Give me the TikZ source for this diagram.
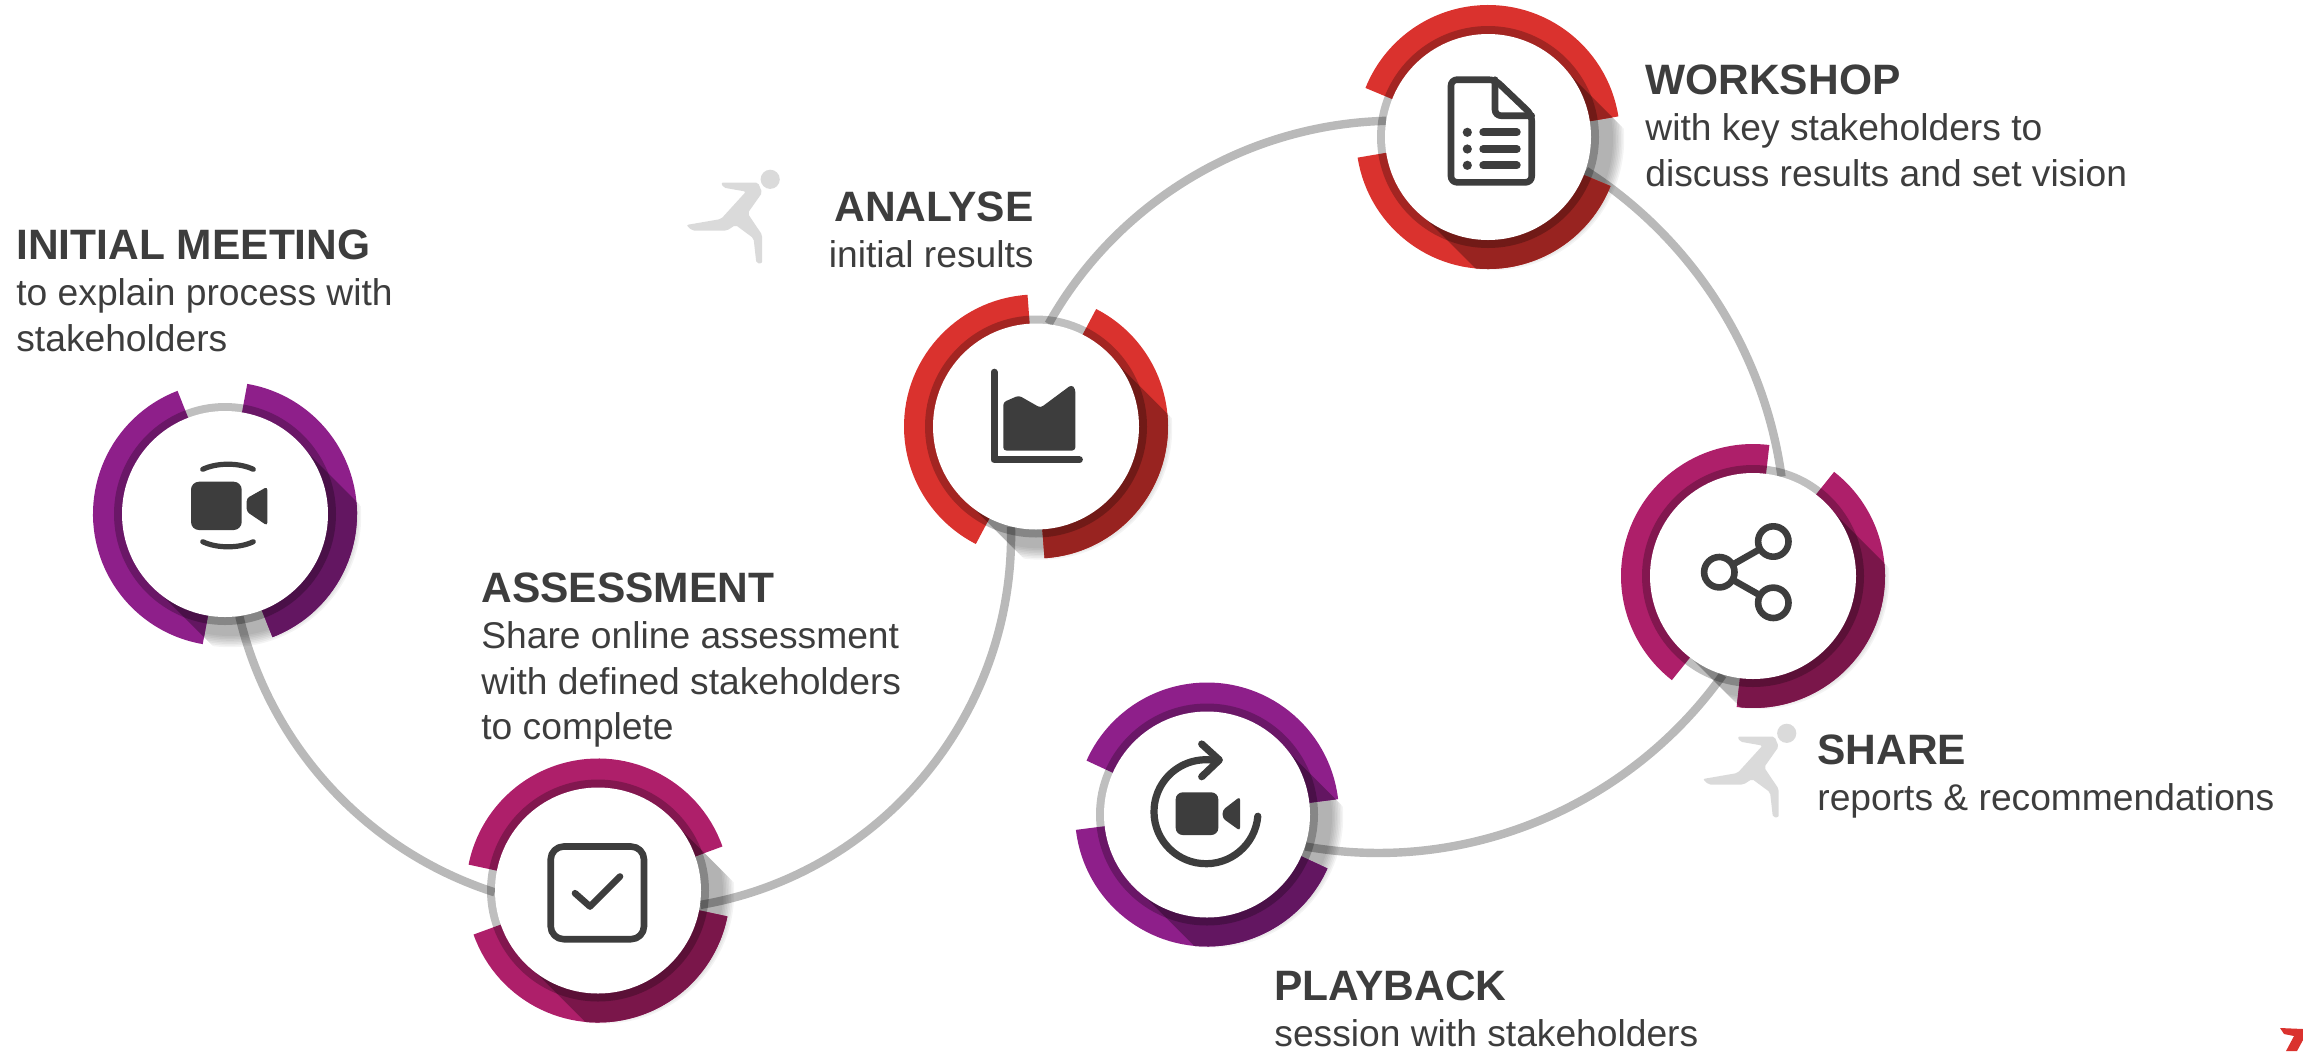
\documentclass[tikz,border=0pt]{standalone}
\usepackage{fontspec}
\setmainfont{Liberation Sans}
\usepackage{xcolor}
\usepackage{tikz}
\usetikzlibrary{backgrounds}
\definecolor{ringpurple}{HTML}{8E1F8A}
\definecolor{ringmagenta}{HTML}{AE1F6A}
\definecolor{ringred}{HTML}{DA322E}
\definecolor{linkgray}{HTML}{B9B9B9}
\definecolor{inkgray}{HTML}{3D3D3D}
\definecolor{runnergray}{HTML}{DADADA}
\tikzset{
  hub/.style={circle, fill=white, minimum size=103pt, inner sep=0pt},
  link/.style={draw=linkgray, line width=4.2pt},
  piece/.style={line width=16pt},
  icon/.style={draw=inkgray, line width=3.3pt, line cap=round, line join=round},
  solid icon/.style={fill=inkgray, rounded corners=1.5pt},
  caption/.style={inner sep=0pt, align=left, anchor=north west, text=inkgray,
    font=\fontsize{18.6}{22.6}\selectfont},
  pics/runner/.style={code={
    \fill[runnergray] (0,0) circle[radius=4.8pt];
    \fill[runnergray, rounded corners=1pt, xscale=1.04] (-47.3,3.3) -- (-11.7,3.3) -- (-7.7,13.3) -- (-21.7,34)
      -- (-7.7,55.7) -- (-7.7,84) -- (-13.3,84) -- (-16,59) -- (-33.3,45.7) -- (-41.7,51.3)
      -- (-75,51.3) -- (-80.7,45.7) -- (-47.3,39.7) -- (-23.3,12.3) -- (-45,8.3) -- cycle;
  }}
}
\newcommand{\hd}[1]{{\fontsize{21.25}{22.6}\selectfont\bfseries #1}}
% two arcs of a ring, gap angle and colour
\newcommand{\ringarcs}[2]{
  \draw[piece, #2] ({#1+30.6}:58pt) arc[start angle={#1+30.6}, end angle={#1+180}, radius=58pt];
  \draw[piece, #2] ({#1+210.6}:58pt) arc[start angle={#1+210.6}, end angle={#1+360}, radius=58pt];
}
% name, x, y, gap angle, colour
\newcommand{\stage}[5]{
  \begin{scope}[shift={(#2,#3)}]
    \begin{scope}
      \clip (72,-72) -- (272,128) -- (128,272) -- (-72,72) -- cycle;
      \foreach \k in {0,...,7}
        \fill[black, opacity=.045] (5,2) circle[radius={60pt+\k*0.8pt}];
    \end{scope}
    \ringarcs{#4}{#5}
    \begin{scope}
      \clip (72,-72) -- (272,128) -- (128,272) -- (-72,72) -- cycle;
      \ringarcs{#4}{#5!70!black}
    \end{scope}
    \fill[black, opacity=.25] (0,0) circle[radius=55.5pt];
    \node[hub] (#1) at (0,0) {};
  \end{scope}
}

\begin{document}
\begin{tikzpicture}[x=0.5pt, y=-0.5pt]
  \useasboundingbox (0,0) rectangle (2303,1051);

  \stage{meet}{225}{514}{80.4}{ringpurple}
  \stage{assess}{598}{890.5}{-11.2}{ringmagenta}
  \stage{analyse}{1036}{426.5}{63}{ringred}
  \stage{workshop}{1488}{137}{-21.7}{ringred}
  \stage{share}{1753}{576}{52.2}{ringmagenta}
  \stage{playback}{1207}{814.5}{-24}{ringpurple}

  % connectors go under the rings
  \begin{scope}[on background layer]
    \foreach \from/\to/\outa/\ina/\loose in {
      meet.-82/assess.181/-76.6/162.2/0.91,
      assess.-8/analyse.-104/9.7/-88.7/0.97,
      analyse.83/workshop.171/60.8/181.5/0.91,
      workshop.-19/share.74/-32.6/97.8/0.89,
      share.-107/playback.-18/234.5/-10.2/0.92}
    \draw[link] (\from) to[out=\outa, in=\ina, looseness=\loose] (\to);
  \end{scope}

  % icons
  \begin{scope}[shift={(meet.center)}]
    \fill[inkgray, rounded corners=4pt] (-34,-32.3) rectangle (16.7,16);
    \fill[solid icon] (21.7,-15.7) -- (42.3,-27.3) -- (42.3,11.7) -- (21.7,-2.3) -- cycle;
    \draw[icon, line width=2.6pt] (-22.3,-44.7) .. controls (-8,-51.5) and (14,-51.5) .. (28.3,-44.7);
    \draw[icon, line width=2.6pt] (-22.3,27.7) .. controls (-8,34.5) and (14,34.5) .. (28.3,27.7);
  \end{scope}
  \begin{scope}[shift={(assess.center)}]
    \draw[icon, rounded corners=6.5pt] (-47.3,-44) rectangle (46,48.7);
    \draw[icon] (-23,2.7) -- (-8,16) -- (22,-14);
  \end{scope}
  \begin{scope}[shift={(analyse.center)}]
    \draw[icon, line width=3.5pt] (-42,-54.3) -- (-42,33.3) -- (43.4,33.3);
    \fill[solid icon] (-32.7,24) -- (-32.7,-24.3) -- (-17.2,-31) -- (4.5,-18.7) -- (35.5,-41.7)
      -- (39.3,-37.7) -- (39.3,24) -- cycle;
  \end{scope}
  \begin{scope}[shift={(workshop.center)}]
    \draw[icon, rounded corners=3pt] (-37,-57.3) -- (7,-57.3) -- (43.7,-22.3) -- (43.7,45.3) -- (-37,45.3) -- cycle;
    \draw[icon, rounded corners=3pt] (7,-57.3) -- (7,-21.3) -- (43.7,-21.3);
    \foreach \y in {-4.7,12,28.3} {
      \fill[inkgray] (-20.7,\y) circle[radius=2.3pt];
      \draw[icon, line width=4pt] (-4.7,\y) -- (28.7,\y);
    }
  \end{scope}
  \begin{scope}[shift={(share.center)}]
    \draw[icon] (20.3,-34.5) -- (-33.7,-3.8) -- (20.3,26.8);
    \foreach \x/\y in {-33.7/-3.8, 20.3/-34.5, 20.3/26.8}
      \draw[icon, fill=white] (\x,\y) circle[radius=7.6pt];
  \end{scope}
  \begin{scope}[shift={(playback.center)}]
    \fill[inkgray, rounded corners=3.5pt] (-31.3,-22.2) rectangle (11.3,20.5);
    \fill[solid icon] (15.7,-4.5) -- (33,-17.8) -- (33,16.2) -- (15.7,3.8) -- cycle;
    \draw[icon, line width=3.6pt] (-1,-2.8) ++(-5:26pt) arc[start angle=-5, end angle=-282, radius=26pt];
    \draw[icon, line width=3.6pt] (-5.3,-70.5) -- (12.3,-54.5) -- (-5.3,-37.8);
  \end{scope}

  % runners
  \pic at (770.2,179.3) {runner};
  \pic at (1786.7,733.3) {runner};

  % corner of the logo
  \fill[ringred] (2280,1028) -- (2303,1029) -- (2303,1040) -- (2297,1051) -- (2286,1051) -- (2294,1036) -- (2284,1034) -- cycle;

  % texts
  \node[caption] (meettext) at (16,229) {\hd{INITIAL MEETING}\\[0.8pt]to explain process with\\stakeholders};
  \node[caption] (assesstext) at (481,572) {\hd{ASSESSMENT}\\[0.8pt]Share online assessment\\with defined stakeholders\\to complete};
  \node[caption, anchor=north east, align=right] (analysetext) at (1034,191) {\hd{ANALYSE}\\[0.8pt]initial results};
  \node[caption] (workshoptext) at (1645,64) {\hd{WORKSHOP}\\[0.8pt]with key stakeholders to\\discuss results and set vision};
  \node[caption] (sharetext) at (1817,734) {\hd{SHARE}\\[0.8pt]reports \& recommendations};
  \node[caption] (playbacktext) at (1274,970) {\hd{PLAYBACK}\\[0.8pt]session with stakeholders};
\end{tikzpicture}
\end{document}
